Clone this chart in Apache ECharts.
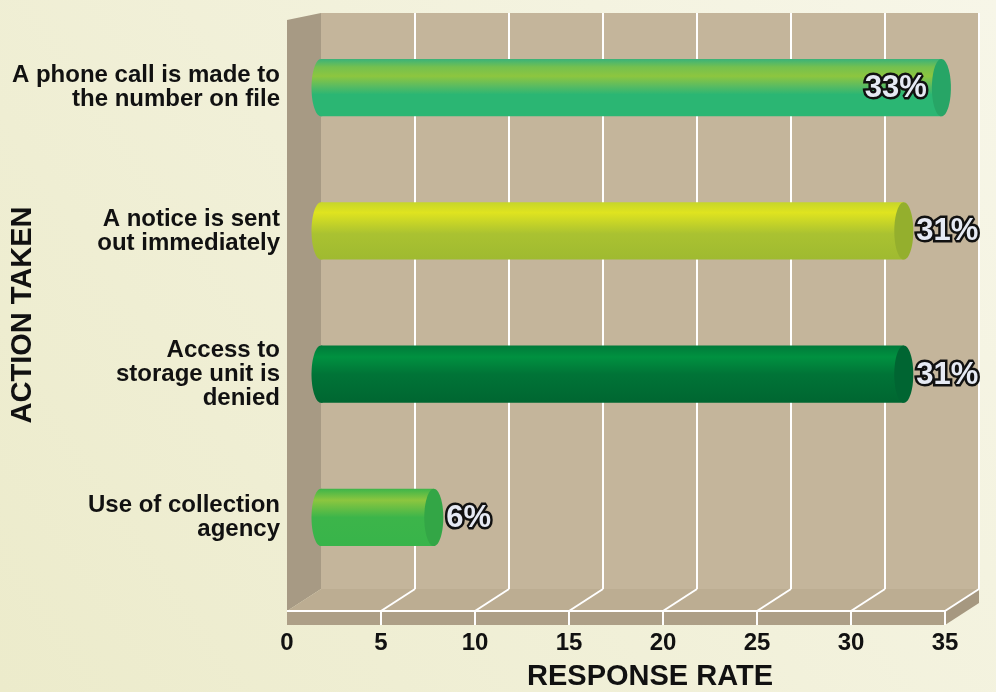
<!DOCTYPE html>
<html>
<head>
<meta charset="utf-8">
<script src="https://cdn.jsdelivr.net/npm/echarts@6/dist/echarts.min.js"></script>
<style>
  html, body { margin: 0; padding: 0; }
  #chart { width: 996px; height: 692px; }
</style>
</head>
<body>
<div id="chart"></div>
<script>
// data
const categories = [
  'A phone call is made to\nthe number on file',
  'A notice is sent\nout immediately',
  'Access to\nstorage unit is\ndenied',
  'Use of collection\nagency'
];
const responseRates = [33, 31, 31, 6];
const xTicks = [0, 5, 10, 15, 20, 25, 30, 35];

// cylinder colours, one per bar
const barColors = [
  { stops: [[0, '#3ab27a'], [0.14, '#74c04f'], [0.3, '#8dc63f'], [0.48, '#58bb62'], [0.62, '#2bb673'], [1, '#2bb673']], cap: '#27a566' },
  { stops: [[0, '#c6d52b'], [0.18, '#dfe41f'], [0.55, '#aac231'], [1, '#9fba30']], cap: '#94af2d' },
  { stops: [[0, '#007a3a'], [0.2, '#009140'], [0.5, '#007437'], [1, '#006631']], cap: '#006532' },
  { stops: [[0, '#3db54a'], [0.2, '#8cc63f'], [0.5, '#3cb54a'], [1, '#38b44a']], cap: '#33a646' }
];

const DEPTH_X = 34;
const DEPTH_Y = 22;
const SLAB = 14;
const FONT = '"Liberation Sans", Arial, sans-serif';

const chart = echarts.init(document.getElementById('chart'));

// walls, floor and grid lines of the fake 3d box
function renderBox(params, api) {
  const cs = params.coordSys;
  const v = api.value(0);
  const wallTop = cs.y - 3;
  const bottom = cs.y + cs.height;
  const xb = api.coord([v, 0])[0];
  const xf = xb - DEPTH_X;
  const yf = bottom + DEPTH_Y;
  const line = { stroke: '#ffffff', lineWidth: 2 };
  const children = [];
  if (params.dataIndex === 0) {
    const xb1 = cs.x + cs.width;
    const xf1 = xb1 - DEPTH_X;
    children.push(
      { type: 'polygon', shape: { points: [[cs.x, wallTop], [xb1, wallTop], [xb1, bottom], [cs.x, bottom]] }, style: { fill: '#c4b59b' } },
      { type: 'polygon', shape: { points: [[xf, cs.y + 4], [cs.x, wallTop], [cs.x, bottom], [xf, yf]] }, style: { fill: '#a79a84' } },
      { type: 'polygon', shape: { points: [[cs.x, bottom], [xb1, bottom], [xf1, yf], [xf, yf]] }, style: { fill: '#bcad92' } },
      { type: 'polygon', shape: { points: [[xf, yf], [xf1, yf], [xf1, yf + SLAB], [xf, yf + SLAB]] }, style: { fill: '#ad9f87' } },
      { type: 'polygon', shape: { points: [[xf1, yf], [xb1, bottom], [xb1, bottom + SLAB], [xf1, yf + SLAB]] }, style: { fill: '#a69880' } },
      { type: 'line', shape: { x1: xf, y1: yf, x2: xf1, y2: yf }, style: line }
    );
  } else {
    children.push(
      { type: 'line', shape: { x1: xb, y1: wallTop, x2: xb, y2: bottom }, style: line },
      { type: 'line', shape: { x1: xb, y1: bottom, x2: xf, y2: yf }, style: line },
      { type: 'line', shape: { x1: xf, y1: yf, x2: xf, y2: yf + SLAB }, style: line }
    );
  }
  return { type: 'group', children: children };
}

function renderBar(params, api) {
  const val = api.value(0);
  const idx = api.value(1);
  const start = api.coord([0, idx]);
  const end = api.coord([val, idx]);
  const h = api.size([0, 1])[1] * 0.4;
  const rx = 9.5;
  const c = barColors[params.dataIndex];
  const grad = new echarts.graphic.LinearGradient(0, 0, 0, 1,
    c.stops.map(s => ({ offset: s[0], color: s[1] })));
  const inside = val > 32;
  return {
    type: 'group',
    children: [
      { type: 'ellipse', shape: { cx: start[0], cy: start[1], rx: rx, ry: h / 2 }, style: { fill: grad } },
      { type: 'rect', shape: { x: start[0], y: start[1] - h / 2, width: end[0] - start[0], height: h }, style: { fill: grad } },
      { type: 'ellipse', shape: { cx: end[0], cy: end[1], rx: rx, ry: h / 2 }, style: { fill: c.cap } },
      {
        type: 'text',
        style: {
          text: val + '%',
          x: inside ? end[0] - rx - 5 : end[0] + rx + 3,
          y: end[1] + 1,
          align: inside ? 'right' : 'left',
          verticalAlign: 'middle',
          font: 'bold 31px ' + FONT,
          fill: '#e6eaf4',
          stroke: '#111111',
          lineWidth: 5,
          strokeFirst: true
        }
      }
    ]
  };
}

const option = {
  backgroundColor: new echarts.graphic.LinearGradient(0, 1, 1, 0, [
    { offset: 0, color: '#ecebcb' },
    { offset: 1, color: '#f7f6e8' }
  ]),
  animation: false,
  grid: [
    { left: 321, top: 16, width: 658, height: 573, outerBoundsMode: 'none', containLabel: false },
    { left: 287, top: 20, width: 658, height: 590, outerBoundsMode: 'none', containLabel: false }
  ],
  xAxis: [
    {
      gridIndex: 0, type: 'value', min: 0, max: 35, interval: 5,
      axisLine: { show: false }, axisTick: { show: false }, splitLine: { show: false }, axisLabel: { show: false },
      name: 'RESPONSE RATE', nameLocation: 'middle', nameGap: 73,
      nameTextStyle: { fontSize: 29, fontWeight: 'bold', fontFamily: FONT, color: '#111' }
    },
    {
      gridIndex: 1, type: 'value', min: 0, max: 35, interval: 5,
      axisLine: { show: false }, axisTick: { show: false }, splitLine: { show: false },
      axisLabel: { margin: 21, fontSize: 24, fontWeight: 'bold', fontFamily: FONT, color: '#111' }
    }
  ],
  yAxis: [
    {
      gridIndex: 0, type: 'category', data: categories, inverse: true,
      axisLine: { show: false }, axisTick: { show: false }, splitLine: { show: false },
      axisLabel: { margin: 41, fontSize: 24, lineHeight: 24, fontWeight: 'bold', fontFamily: FONT, color: '#111' }
    },
    {
      gridIndex: 1, type: 'value', min: 0, max: 1,
      axisLine: { show: false }, axisTick: { show: false }, splitLine: { show: false }, axisLabel: { show: false },
      name: 'ACTION TAKEN', nameLocation: 'middle', nameRotate: 90, nameGap: 250,
      nameTextStyle: { fontSize: 29, fontWeight: 'bold', fontFamily: FONT, color: '#111' }
    }
  ],
  series: [
    {
      type: 'custom', xAxisIndex: 0, yAxisIndex: 0, z: 1, silent: true,
      data: xTicks.map(t => [t, 0]),
      renderItem: renderBox
    },
    {
      type: 'custom', xAxisIndex: 0, yAxisIndex: 0, z: 5,
      data: responseRates.map((v, i) => [v, i]),
      renderItem: renderBar
    }
  ]
};

chart.setOption(option);
</script>
</body>
</html>
